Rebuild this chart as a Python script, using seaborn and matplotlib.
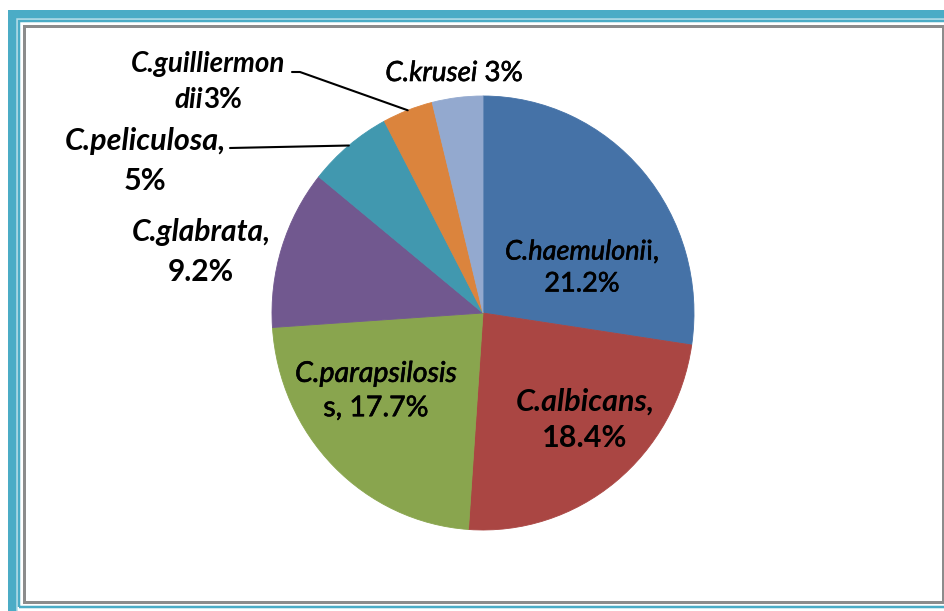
import numpy as np
import matplotlib
matplotlib.use("Agg")
import matplotlib.pyplot as plt
import matplotlib.patheffects as pe
import seaborn as sns
from matplotlib.patches import Rectangle
from matplotlib.lines import Line2D
from matplotlib.offsetbox import TextArea, HPacker, VPacker, AnnotationBbox

species = ["C.haemulonii", "C.albicans", "C.parapsilosis", "C.glabrata",
           "C.peliculosa", "C.guilliermondii", "C.krusei"]
percent = [21.2, 18.4, 17.7, 9.2, 5, 3, 3]
colors = ["#4572A7", "#AA4643", "#89A54E", "#71588F", "#4198AF", "#DB843D", "#93A9CF"]

# label lines: list of (text, italic) pieces, as broken in the original
labels = [
    [[("C.haemuloni", True), ("i,", False)], [(f"{percent[0]}%", False)]],
    [[("C.albicans,", True)], [(f"{percent[1]}%", False)]],
    [[("C.parapsilosis", True)], [(f"s, {percent[2]}%", False)]],
    [[("C.glabrata,", True)], [(f"{percent[3]}%", False)]],
    [[("C.peliculosa,", True)], [(f"{percent[4]}%", False)]],
    [[("C.guilliermon", True)], [("dii", True), (f"{percent[5]}%", False)]],
    [[("C.krusei", True), (f" {percent[6]}%", False)]],
]
label_pos = [(582, 268), (585, 420), (376, 391), (201, 252), (145, 161), (208, 82), (454, 73)]
label_size = [19.5, 22, 20.5, 21.5, 22, 20, 20]
label_weight = ["normal", "bold", "normal", "bold", "bold", "bold", "normal"]
# extra stroke (px) to thicken the thin regular face
label_stroke = [0.45, 0.0, 0.45, 0.0, 0.0, 0.0, 0.45]
line_gap = [5, 6, 6, 8, 8, 7, 0]

W, H = 944, 611

sns.set_theme(style="white")
plt.rcParams["font.family"] = ["Lato", "DejaVu Sans"]

fig = plt.figure(figsize=(W / 100, H / 100), dpi=100)
fig.patch.set_facecolor("white")


def fx(x):
    return x / W


def fy(y):
    return 1 - y / H


def frame(x0, y0, x1, y1, color, lw_px):
    fig.add_artist(Rectangle((fx(x0), fy(y1)), fx(x1) - fx(x0), fy(y0) - fy(y1),
                             transform=fig.transFigure, fill=False,
                             edgecolor=color, linewidth=lw_px * 0.72))


# decorative border
frame(11.5, 13.5, 965, 630, "#4BACC6", 9)
frame(17, 19, 950, 620, "#b5dde8", 1.5)
frame(19, 21, 948, 607, "#4BACC6", 2.5)
frame(23.5, 25.5, 942.5, 602, "#8c8c8c", 3)

ax = fig.add_axes([fx(272), fy(530), (694 - 272) / W, (530 - 96) / H])
pal = sns.color_palette(colors)
wedges, _ = ax.pie(percent, colors=pal, startangle=90, counterclock=False,
                   radius=1)
for w in wedges:
    w.set_edgecolor(w.get_facecolor())
    w.set_linewidth(0.6)
ax.set_xlim(-1, 1)
ax.set_ylim(-1, 1)
ax.set_aspect("auto")
ax.axis("off")

for lines, (x, y), size, weight, stroke, gap in zip(labels, label_pos, label_size,
                                                    label_weight, label_stroke, line_gap):
    effects = [pe.withStroke(linewidth=stroke, foreground="black")] if stroke else []
    rows = []
    for line in lines:
        parts = [TextArea(t, textprops=dict(fontsize=size, color="black", fontweight=weight,
                                            fontstyle="italic" if it else "normal",
                                            path_effects=effects))
                 for t, it in line]
        rows.append(HPacker(children=parts, align="baseline", pad=0, sep=0))
    box = VPacker(children=rows, align="center", pad=0, sep=gap)
    fig.add_artist(AnnotationBbox(box, (fx(x), fy(y)), xycoords="figure fraction",
                                  frameon=False, box_alignment=(0.5, 0.5), pad=0))

# leader lines to the middle of the small slices
inv = fig.transFigure.inverted()


def slice_mid(i):
    a = np.deg2rad((wedges[i].theta1 + wedges[i].theta2) / 2)
    return inv.transform(ax.transData.transform((np.cos(a), np.sin(a))))


leaders = {5: [(292, 72), (300, 72)], 4: [(230, 148)]}
for i, pts in leaders.items():
    end = slice_mid(i)
    xs = [fx(p[0]) for p in pts] + [end[0]]
    ys = [fy(p[1]) for p in pts] + [end[1]]
    fig.add_artist(Line2D(xs, ys, transform=fig.transFigure, color="black", linewidth=1.5))

fig.savefig("out.png", dpi=100)
